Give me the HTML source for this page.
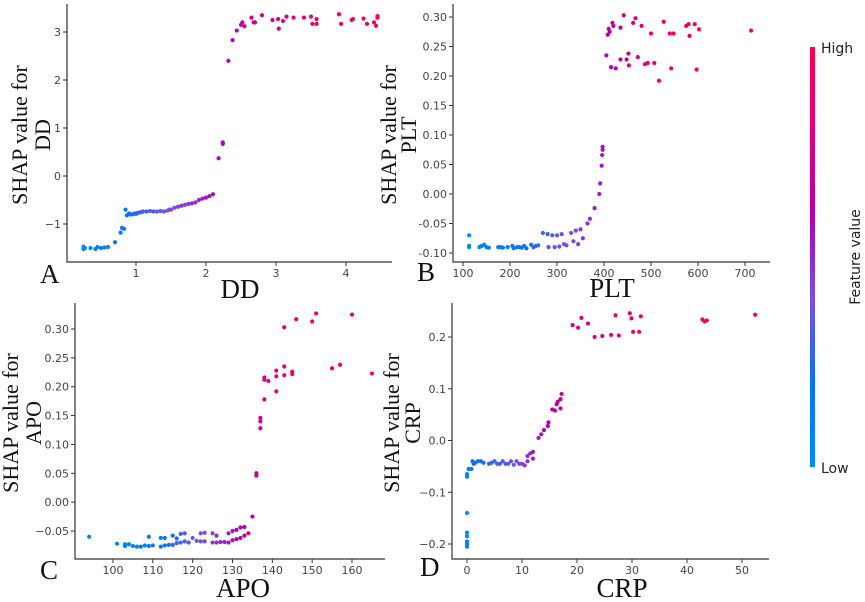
<!DOCTYPE html>
<html><head><meta charset="utf-8"><style>
html,body{margin:0;padding:0;background:#fff;}
svg{display:block;}
.tk{font-family:"DejaVu Sans","Liberation Sans",sans-serif;font-size:11px;fill:#444;}
.sr{font-family:"Liberation Serif",serif;fill:#111;}
</style></head><body>
<svg id="chart" width="865" height="602" viewBox="0 0 865 602">
<defs><linearGradient id="cbar" x1="0" y1="1" x2="0" y2="0">
<stop offset="0" stop-color="#008bfb"/><stop offset="0.2" stop-color="#0a72f5"/><stop offset="0.4" stop-color="#7a4fe0"/><stop offset="0.6" stop-color="#b000b4"/><stop offset="0.8" stop-color="#e0007c"/><stop offset="1" stop-color="#ff0052"/></linearGradient></defs>
<rect x="810" y="47" width="5" height="420" fill="url(#cbar)"/>
<text x="821" y="53" class="tk" style="font-size:14px;fill:#222">High</text>
<text x="821" y="473" class="tk" style="font-size:14px;fill:#222">Low</text>
<text transform="translate(860,257) rotate(-90)" text-anchor="middle" class="tk" style="font-size:14px;fill:#222">Feature value</text>
</svg>
<script>
// Panel A: DD
const ddX=[0.25,0.25,0.27,0.35,0.42,0.45,0.5,0.55,0.6,0.7,0.78,0.8,0.83,0.85,0.87,0.9,0.92,0.95,0.98,1.0,1.02,1.05,1.08,1.1,1.15,1.2,1.25,1.3,1.35,1.4,1.45,1.48,1.5,1.55,1.6,1.65,1.7,1.75,1.8,1.85,1.9,1.95,2.0,2.05,2.1,2.18,2.24,2.24,2.32,2.38,2.44,2.5,2.52,2.55,2.65,2.68,2.7,2.8,2.95,3.03,3.04,3.1,3.15,3.25,3.4,3.5,3.52,3.58,3.58,3.9,3.93,4.08,4.1,4.25,4.3,4.4,4.43,4.45,4.45];
const ddY=[-1.47,-1.52,-1.5,-1.5,-1.52,-1.48,-1.5,-1.49,-1.48,-1.38,-1.18,-1.08,-1.1,-0.7,-0.82,-0.78,-0.8,-0.8,-0.78,-0.79,-0.77,-0.76,-0.75,-0.74,-0.74,-0.73,-0.74,-0.74,-0.73,-0.74,-0.72,-0.7,-0.7,-0.66,-0.64,-0.62,-0.6,-0.58,-0.57,-0.55,-0.5,-0.47,-0.45,-0.42,-0.38,0.37,0.7,0.67,2.4,2.83,3.03,3.15,3.2,3.12,3.3,3.2,3.2,3.35,3.25,3.27,3.07,3.23,3.32,3.3,3.3,3.32,3.17,3.27,3.17,3.37,3.17,3.25,3.27,3.28,3.17,3.2,3.13,3.33,3.3];
const ddYTicks=[-1,0,1,2,3], ddXTicks=[1,2,3,4];
// Panel B: PLT
const pltX=[113,113,113,135,140,145,150,155,175,180,185,195,205,208,215,220,225,230,235,245,250,255,260,270,280,282,290,295,300,305,310,315,320,330,335,340,345,350,355,365,370,380,390,392,395,396,397,397,405,408,410,412,415,418,420,425,435,435,442,448,452,453,462,467,472,480,487,493,500,507,517,527,540,543,548,575,580,582,593,597,602,713];
const pltY=[-0.07,-0.09,-0.088,-0.09,-0.088,-0.086,-0.09,-0.091,-0.09,-0.09,-0.091,-0.09,-0.088,-0.092,-0.09,-0.09,-0.091,-0.088,-0.092,-0.086,-0.09,-0.088,-0.087,-0.066,-0.068,-0.09,-0.07,-0.09,-0.07,-0.089,-0.068,-0.085,-0.087,-0.066,-0.08,-0.062,-0.085,-0.06,-0.075,-0.05,-0.042,-0.024,0.0,0.018,0.048,0.066,0.075,0.08,0.235,0.27,0.28,0.275,0.215,0.29,0.285,0.213,0.282,0.228,0.303,0.228,0.238,0.218,0.29,0.298,0.232,0.285,0.22,0.222,0.272,0.222,0.192,0.292,0.272,0.213,0.272,0.285,0.288,0.268,0.288,0.211,0.279,0.277];
const pltYTicks=[-0.10,-0.05,0.00,0.05,0.10,0.15,0.20,0.25,0.30], pltXTicks=[100,200,300,400,500,600,700];
// Panel C: APO
const apoX=[94,101,103,103,104,105,106,107,108,109,109,110,112,112,113,113,114,115,115,116,116,117,117,118,118,119,120,121,122,122,123,123,125,125,126,126,127,128,129,129,130,130,131,131,132,132,133,133,134,135,136,136,137,137,137,138,138,138,139,141,141,141,143,143,143,145,145,146,150,151,155,157,160,165];
const apoY=[-0.06,-0.072,-0.073,-0.076,-0.073,-0.076,-0.077,-0.077,-0.075,-0.06,-0.076,-0.075,-0.062,-0.077,-0.062,-0.075,-0.074,-0.058,-0.074,-0.063,-0.071,-0.055,-0.07,-0.054,-0.068,-0.07,-0.062,-0.067,-0.054,-0.068,-0.053,-0.068,-0.054,-0.07,-0.058,-0.07,-0.069,-0.069,-0.054,-0.07,-0.05,-0.066,-0.048,-0.064,-0.044,-0.062,-0.043,-0.058,-0.054,-0.025,0.05,0.046,0.128,0.14,0.146,0.178,0.212,0.216,0.21,0.192,0.218,0.228,0.22,0.235,0.303,0.222,0.226,0.317,0.313,0.327,0.232,0.238,0.325,0.223];
const apoYTicks=[-0.05,0.00,0.05,0.10,0.15,0.20,0.25,0.30], apoXTicks=[100,110,120,130,140,150,160];
// Panel D: CRP
const crpX=[0,0,0,0,0,0,0,0,0.3,0.8,1,1.2,1.5,2,2.5,3,4,4.5,5,5.5,6,6.5,7,7.5,8,8.5,9,9.5,10,10.5,11,11,11.5,12,12,13,13.5,14,14.7,14.8,15.5,16,16.3,16.5,17,17,17.2,19.2,20.2,20.8,22,23.2,24.6,26.2,27,27.6,29.6,29.9,30.2,31.3,31.6,42.8,43.2,43.6,52.4];
const crpY=[-0.065,-0.07,-0.14,-0.178,-0.185,-0.195,-0.2,-0.205,-0.055,-0.055,-0.04,-0.045,-0.043,-0.04,-0.04,-0.043,-0.045,-0.043,-0.04,-0.045,-0.045,-0.04,-0.045,-0.045,-0.04,-0.047,-0.04,-0.045,-0.045,-0.048,-0.04,-0.03,-0.025,-0.035,-0.022,0.005,0.012,0.02,0.028,0.035,0.06,0.058,0.07,0.075,0.062,0.08,0.09,0.223,0.218,0.237,0.226,0.2,0.202,0.204,0.242,0.203,0.246,0.236,0.21,0.21,0.24,0.234,0.23,0.232,0.243];
const crpYTicks=[-0.2,-0.1,0.0,0.1,0.2], crpXTicks=[0,10,20,30,40,50];

const NS='http://www.w3.org/2000/svg';
const svg=document.getElementById('chart');
function mk(tag,attrs,parent){const e=document.createElementNS(NS,tag);for(const k in attrs)e.setAttribute(k,attrs[k]);(parent||svg).appendChild(e);return e;}
const stops=[[0,[0,139,251]],[0.2,[10,114,245]],[0.4,[122,79,224]],[0.6,[176,0,180]],[0.8,[224,0,124]],[1,[255,0,82]]];
function cmap(t){for(let i=1;i<stops.length;i++){if(t<=stops[i][0]){const a=stops[i-1],b=stops[i],f=(t-a[0])/(b[0]-a[0]);return 'rgb('+a[1].map((v,j)=>Math.round(v+(b[1][j]-v)*f)).join(',')+')';}}return 'rgb(255,0,82)';}

function panel(cfg){
  const g=mk('g',{});
  
  
  const sx=v=>cfg.px0+(v-cfg.vx0)*(cfg.px1-cfg.px0)/(cfg.vx1-cfg.vx0);
  const sy=v=>cfg.py0+(v-cfg.vy0)*(cfg.py1-cfg.py0)/(cfg.vy1-cfg.vy0);
  const ax=mk('path',{d:`M${cfg.L} ${cfg.T}V${cfg.B}H${cfg.R}`,fill:'none',stroke:'#333','stroke-width':1.2},g);
  
  
  cfg.yt.forEach(v=>{const y=sy(v);mk('line',{x1:cfg.L-4,x2:cfg.L,y1:y,y2:y,stroke:'#333'},g);
    const t=mk('text',{x:cfg.L-6,y:y+4,'text-anchor':'end',class:'tk'},g);t.textContent=cfg.fy(v);
    
    });
  cfg.xt.forEach(v=>{const x=sx(v);mk('line',{x1:x,x2:x,y1:cfg.B,y2:cfg.B+4,stroke:'#333'},g);
    const t=mk('text',{x:x,y:cfg.B+15,'text-anchor':'middle',class:'tk'},g);t.textContent=String(v);
    
    });
  const n=cfg.xs.length;const idx=[...Array(n).keys()].sort((a,b)=>cfg.xs[a]-cfg.xs[b]);const rank=new Array(n);idx.forEach((k,r)=>rank[k]=r);
  for(let i=0;i<n;i++){const c=mk('circle',{cx:sx(cfg.xs[i]),cy:sy(cfg.ys[i]),r:2.1,fill:cmap(rank[i]/(n-1))},g);
    
    }
  const yl=mk('text',{transform:`translate(${cfg.ylx},${cfg.ylc}) rotate(-90)`,'text-anchor':'middle',class:'sr','font-size':22},g);
  
  
  mk('tspan',{x:0,y:0},yl).textContent='SHAP value for';
  mk('tspan',{x:0,dy:cfg.yld},yl).textContent=cfg.label;
  const xl=mk('text',{x:cfg.xlx,y:cfg.xly,'text-anchor':'middle',class:'sr','font-size':27},g);xl.textContent=cfg.label;
  
  
  const pl=mk('text',{x:cfg.lx,y:cfg.ly,class:'sr','font-size':27},g);pl.textContent=cfg.letter;
  
  
}
const f0=v=>v<0?'\u2212'+Math.abs(v):String(v);
const f2=v=>v<0?'\u2212'+Math.abs(v).toFixed(2):v.toFixed(2);
const f2b=v=>v<0?'-'+Math.abs(v).toFixed(2):v.toFixed(2);
const f1=v=>v<0?'\u2212'+Math.abs(v).toFixed(1):v.toFixed(1);
panel({name:'dd',xs:ddX,ys:ddY,yt:ddYTicks,xt:ddXTicks,fy:f0,L:67,R:392,T:4,B:262,px0:136,px1:346,vx0:1,vx1:4,py0:176,py1:32,vy0:0,vy1:3,ylx:27,yld:23,ylc:135,label:'DD',xlx:240,xly:298,letter:'A',lx:40,ly:283});
panel({name:'plt',xs:pltX,ys:pltY,yt:pltYTicks,xt:pltXTicks,fy:f2b,L:453,R:770,T:4,B:262,px0:463,px1:745,vx0:100,vx1:700,py0:253,py1:17,vy0:-0.10,vy1:0.30,ylx:396,yld:20,ylc:135,label:'PLT',xlx:612,xly:297,letter:'B',lx:417,ly:281});
panel({name:'apo',xs:apoX,ys:apoY,yt:apoYTicks,xt:apoXTicks,fy:f2,L:75,R:385,T:303,B:559,px0:113,px1:352,vx0:100,vx1:160,py0:531,py1:329,vy0:-0.05,vy1:0.30,ylx:18,yld:23,ylc:423,label:'APO',xlx:243,xly:597,letter:'C',lx:40,ly:579});
panel({name:'crp',xs:crpX,ys:crpY,yt:crpYTicks,xt:crpXTicks,fy:f1,L:452,R:769,T:303,B:559,px0:467,px1:742,vx0:0,vx1:50,py0:544,py1:337,vy0:-0.2,vy1:0.2,ylx:399,yld:21,ylc:423,label:'CRP',xlx:622,xly:597,letter:'D',lx:420,ly:576});
</script>
</body></html>
